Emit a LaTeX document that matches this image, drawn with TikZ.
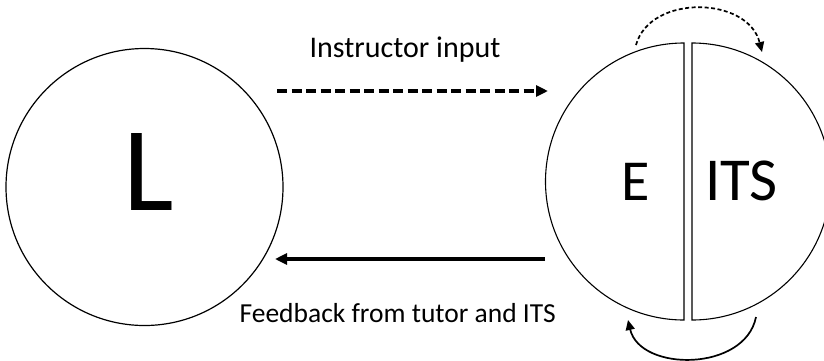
\documentclass[tikz,border=0pt]{standalone}
\usepackage{fontspec}
\setmainfont{Carlito}
\usetikzlibrary{positioning, arrows.meta}

\begin{document}
\begin{tikzpicture}[x=1pt, y=-1pt, line width=1.2pt,
    thick arrow/.style={line width=3.4pt, -{Triangle[length=12pt, width=11pt]}},
    loop arrow/.style={line width=1.7pt, -{Triangle[length=10pt, width=9pt]}},
    half/.style={line width=1.1pt}]
    \useasboundingbox (0,0) rectangle (824,360);

    % learner
    \node (learner) [draw, circle, minimum size=277pt, inner sep=0pt] at (144.5,187) {};
    \node (L) [anchor=base] at (149,210) {\fontsize{120}{120}\selectfont L};

    % expert and ITS halves
    \draw [half] (684,43) coordinate (Etop) arc [start angle=90, end angle=270, radius=138.5pt] coordinate (Ebot) -- cycle;
    \draw [half] (692,320) coordinate (Ibot) arc [start angle=270, end angle=450, radius=138.5pt] coordinate (Itop) -- cycle;
    \node (E) [anchor=base] at (636,200.5) {\fontsize{58}{58}\selectfont E};
    \node (ITS) [anchor=base] at (741.5,200.5) {\fontsize{61}{61}\selectfont ITS};

    % links
    \coordinate (inA) at (277,91);
    \coordinate (inB) at (548,91);
    \coordinate (fbA) at (545,259);
    \coordinate (fbB) at (275,259);
    \draw [thick arrow, dash pattern=on 10pt off 4.5pt] (inA) -- (inB);
    \draw [thick arrow] (fbA) -- (fbB);
    \node (instr) [anchor=base] at (405,57) {\fontsize{30}{30}\selectfont Instructor input};
    \node (fb) [anchor=base west, inner sep=0pt] at (239,322) {\fontsize{27.5}{27.5}\selectfont Feedback from tutor and ITS};

    % swaps between E and ITS
    \coordinate (topA) at (636,45);
    \coordinate (topB) at (762,52);
    \coordinate (botA) at (756,317);
    \coordinate (botB) at (628,320);
    \draw [loop arrow, dash pattern=on 4pt off 2.5pt] (topA) .. controls (650,-6) and (748,-4) .. (topB);
    \draw [loop arrow] (botA) .. controls (745,372) and (640,372) .. (botB);
\end{tikzpicture}
\end{document}
